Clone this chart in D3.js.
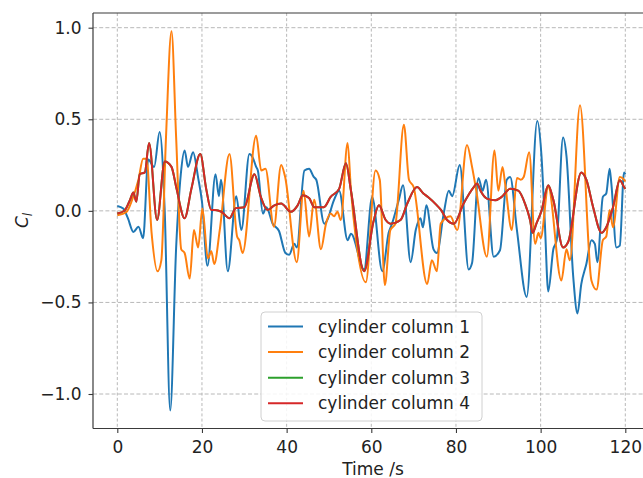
<!DOCTYPE html>
<html>
<head>
<meta charset="utf-8">
<script src="https://cdn.jsdelivr.net/npm/d3@7"></script>
<style>
  html, body { margin: 0; padding: 0; background: #fff; }
  svg { display: block; }
  text { font-family: "DejaVu Sans", sans-serif; fill: #222; }
</style>
</head>
<body>
<svg id="chart" width="643" height="478"></svg>
<script>
// ---- data: [time (s), C_l] ----
const col1 = [[0,0.027],[1.4,0.013],[2.5,-0.04],[3.8,-0.115],[5,-0.087],[6.1,-0.15],[7.3,0.28],[8.7,0.24],[10,0.43],[11.2,0.0],[12.5,-1.09],[13.9,-0.2],[15,0.2],[15.9,0.33],[16.7,0.24],[17.9,0.32],[19.1,0.18],[20,0.05],[21.3,-0.30],[23.2,0.20],[24,0.08],[24.5,0.17],[26.1,-0.33],[28.1,0.08],[29.3,-0.105],[31.2,0.31],[32,0.29],[32.8,0.24],[33.2,0.22],[34.4,-0.015],[35.2,0.02],[36.7,-0.07],[38.2,-0.11],[39.7,-0.23],[40.6,-0.24],[41.8,-0.18],[42.4,-0.2],[44.2,0.22],[45.3,0.23],[46.4,0.185],[47,0.17],[48.9,-0.07],[49.6,-0.05],[51.2,0.06],[52.4,0.11],[54.4,-0.16],[55.2,-0.125],[58.3,-0.32],[60.2,0.076],[62.6,-0.33],[64.1,-0.12],[64.9,-0.07],[66.5,0.06],[67.5,0.14],[69.3,-0.28],[70.5,-0.105],[71.6,-0.04],[72.2,-0.09],[73,0.03],[74.7,-0.21],[75.5,-0.23],[77.1,-0.015],[78.3,0.11],[79.1,0.08],[80.9,0.25],[83,-0.32],[83.8,-0.285],[85.3,0.18],[86.3,0.11],[87.1,0.17],[88.9,-0.25],[90.4,-0.215],[92,0.17],[92.8,0.185],[94.4,-0.105],[96.7,-0.47],[99.2,0.49],[100.2,0.3],[101,-0.07],[101.8,-0.44],[103,-0.21],[103.8,-0.16],[105.3,0.40],[106.1,0.3],[107.7,-0.36],[108.7,-0.56],[109.6,-0.4],[110.8,-0.29],[112,-0.16],[112.8,-0.18],[113.4,-0.28],[114.7,0.076],[115.5,0.095],[116.3,0.23],[116.7,0.15],[117.9,-0.2],[118.7,-0.19],[119.7,0.21],[120,0.2]];

const col2 = [[0,-0.024],[2.2,-0.005],[3.5,0.06],[5,0.17],[6.1,0.285],[6.9,0.285],[8.1,-0.12],[9.5,-0.33],[10.4,-0.27],[11.5,0.4],[12.8,0.98],[13.9,0.4],[15.1,-0.21],[15.9,-0.23],[17.1,-0.37],[18.1,-0.105],[19.1,-0.2],[20.1,0.013],[21.4,-0.26],[22.2,-0.22],[22.9,-0.29],[24.2,-0.105],[26.5,0.31],[28.3,-0.14],[28.8,-0.16],[29.6,-0.23],[32.8,0.41],[34,0.22],[35,0.23],[37,-0.087],[38.7,0.25],[39.6,0.19],[42.4,-0.28],[44,0.11],[45.3,-0.14],[46.5,0.06],[48.1,-0.21],[49.3,-0.07],[50.4,-0.015],[51.2,-0.03],[52,-0.005],[52.8,-0.05],[54.4,0.37],[55.2,0.11],[56.3,-0.14],[58.7,-0.39],[61,0.22],[62,0.17],[63.2,-0.405],[64.5,-0.105],[65.7,-0.07],[67.7,0.47],[68.9,0.17],[70,0.13],[73.2,-0.40],[74.3,-0.27],[75.5,-0.33],[76.4,-0.07],[78.7,-0.03],[80.3,-0.105],[82.6,0.36],[83.8,0.24],[84.8,0.11],[87.3,-0.25],[89.1,0.33],[90,0.11],[91,0.24],[91.6,0.15],[93.2,-0.105],[94.4,0.18],[95.3,0.17],[96,0.185],[97.3,0.32],[98.7,-0.18],[99.5,-0.12],[100,-0.15],[101.8,0.13],[104.9,-0.38],[106.1,-0.21],[106.9,-0.27],[109.3,0.576],[112,-0.38],[113.2,-0.43],[114.7,-0.16],[115.5,-0.14],[116.3,0.004],[117.1,-0.09],[118.7,0.185],[119.7,0.17],[120,0.16]];

const col4 = [[0,-0.015],[1.8,0.004],[3,0.06],[3.8,0.10],[4.5,0.05],[5.3,0.2],[6.5,0.21],[7.5,0.37],[9.4,-0.05],[11.2,0.27],[12.8,0.24],[14,0.12],[15.9,-0.04],[17.5,0.12],[19.6,0.31],[21,0.12],[22.2,0.004],[23,0.004],[24.6,-0.005],[26.5,-0.04],[28,0.015],[30,0.02],[32.4,0.2],[33.9,0.076],[35.5,0.004],[37.1,0.03],[38.7,0.04],[41,-0.005],[42.6,0.03],[43.8,0.085],[45.3,0.07],[46.5,0.02],[48.8,0.02],[50.4,0.076],[52.4,0.12],[54,0.26],[55.2,0.11],[58.3,-0.33],[60.5,-0.06],[61.8,0.03],[63.4,-0.05],[64.5,-0.07],[66.9,-0.05],[68.5,0.04],[70.8,0.13],[72.3,0.095],[73.4,0.076],[75.5,0.03],[76.5,0.004],[77.9,-0.05],[79.5,-0.07],[81.8,0.04],[84.2,0.13],[85,0.15],[85.8,0.11],[87.3,0.067],[89.3,0.058],[90.8,0.076],[92.8,0.12],[94.7,0.11],[96.3,0.04],[97.5,-0.05],[98.1,-0.12],[99,-0.07],[100.2,0.0],[101.8,0.14],[103,0.06],[105.3,-0.2],[106.5,-0.17],[109.6,0.21],[110.8,0.17],[112.4,0.02],[114.4,-0.12],[115.5,-0.09],[117.1,0.02],[118.7,0.167],[119.7,0.13],[120,0.12]];

// column 3 coincides with column 4 (hidden beneath it in the reference)
const col3 = col4;

const seriesNames = ["cylinder column 1", "cylinder column 2", "cylinder column 3", "cylinder column 4"];
const seriesColors = ["#1f77b4", "#ff7f0e", "#2ca02c", "#d62728"];
const xTicks = [0, 20, 40, 60, 80, 100, 120];
const yTicks = [-1.0, -0.5, 0.0, 0.5, 1.0];
const xLabel = "Time /s";

// ---- layout ----
const svg = d3.select("#chart");
const plot = { left: 93, right: 660, top: 13, bottom: 428.5 };

const x = d3.scaleLinear().domain([0, 120]).range([117.3, 625.3]);
const y = d3.scaleLinear().domain([-1, 1]).range([394, 27.7]);

svg.append("defs").append("clipPath").attr("id", "clip")
  .append("rect")
  .attr("x", plot.left).attr("y", plot.top)
  .attr("width", plot.right - plot.left).attr("height", plot.bottom - plot.top);

// grid
const grid = svg.append("g");
grid.selectAll(".vg").data(xTicks).join("line")
  .attr("x1", d => x(d)).attr("x2", d => x(d))
  .attr("y1", plot.top).attr("y2", plot.bottom)
  .attr("stroke", "#b8b8b8").attr("stroke-width", 1)
  .attr("stroke-dasharray", "3,2.2");
grid.selectAll(".hg").data(yTicks).join("line")
  .attr("x1", plot.left).attr("x2", plot.right)
  .attr("y1", d => y(d)).attr("y2", d => y(d))
  .attr("stroke", "#b8b8b8").attr("stroke-width", 1)
  .attr("stroke-dasharray", "4,2.2");

// lines
const line = d3.line()
  .x(d => x(d[0])).y(d => y(d[1]))
  .curve(d3.curveMonotoneX);

const allSeries = [col1, col2, col3, col4];
svg.append("g").attr("clip-path", "url(#clip)")
  .selectAll("path").data(allSeries).join("path")
  .attr("d", d => line(d))
  .attr("fill", "none")
  .attr("stroke", (d, i) => seriesColors[i])
  .attr("stroke-width", 2)
  .attr("stroke-linejoin", "round");

// spines
const spineColor = "#3a3a3a";
svg.append("line").attr("x1", plot.left).attr("x2", plot.left)
  .attr("y1", plot.top).attr("y2", plot.bottom)
  .attr("stroke", spineColor).attr("stroke-width", 1.2);
svg.append("line").attr("x1", plot.left).attr("x2", plot.right)
  .attr("y1", plot.bottom).attr("y2", plot.bottom)
  .attr("stroke", spineColor).attr("stroke-width", 1.2);
svg.append("line").attr("x1", plot.left).attr("x2", plot.right)
  .attr("y1", plot.top).attr("y2", plot.top)
  .attr("stroke", spineColor).attr("stroke-width", 1.2);

// axes via d3 axis generators
const xAxis = d3.axisBottom(x).tickValues(xTicks).tickSize(4.5).tickPadding(8)
  .tickFormat(d3.format("d"));
const gx = svg.append("g").attr("transform", `translate(0,${plot.bottom})`).call(xAxis);
gx.select(".domain").remove();
gx.selectAll(".tick line").attr("stroke", spineColor).attr("stroke-width", 1.1);
gx.selectAll(".tick text").attr("font-size", 17).attr("font-family", "DejaVu Sans").attr("fill", "#222");

const fmtY = d => d3.format(".1f")(d).replace("-", "\u2212");
const yAxis = d3.axisLeft(y).tickValues(yTicks).tickSize(4.5).tickPadding(7)
  .tickFormat(fmtY);
const gy = svg.append("g").attr("transform", `translate(${plot.left},0)`).call(yAxis);
gy.select(".domain").remove();
gy.selectAll(".tick line").attr("stroke", spineColor).attr("stroke-width", 1.1);
gy.selectAll(".tick text").attr("font-size", 17).attr("font-family", "DejaVu Sans").attr("fill", "#222");

// axis labels
svg.append("text")
  .attr("x", (plot.left + 653) / 2).attr("y", 475)
  .attr("text-anchor", "middle").attr("font-size", 17)
  .text(xLabel);

const yl = svg.append("text")
  .attr("transform", `translate(28,220.5) rotate(-90)`)
  .attr("text-anchor", "middle").attr("font-size", 17);
yl.append("tspan").attr("font-style", "italic").text("C");
yl.append("tspan").attr("font-style", "italic").attr("font-size", 12).attr("dy", 3.5).text("l");

// legend
const leg = svg.append("g");
leg.append("rect")
  .attr("x", 261).attr("y", 312).attr("width", 221).attr("height", 109)
  .attr("rx", 4).attr("ry", 4)
  .attr("fill", "#fff").attr("fill-opacity", 0.85)
  .attr("stroke", "#d0d0d0").attr("stroke-width", 1);
const rows = leg.selectAll(".row").data(seriesNames).join("g")
  .attr("transform", (d, i) => `translate(0,${326.5 + i * 25.6})`);
rows.append("line")
  .attr("x1", 268).attr("x2", 303).attr("y1", 0).attr("y2", 0)
  .attr("stroke", (d, i) => seriesColors[i]).attr("stroke-width", 2);
rows.append("text")
  .attr("x", 318).attr("y", 6).attr("font-size", 17)
  .text(d => d);
</script>
</body>
</html>
